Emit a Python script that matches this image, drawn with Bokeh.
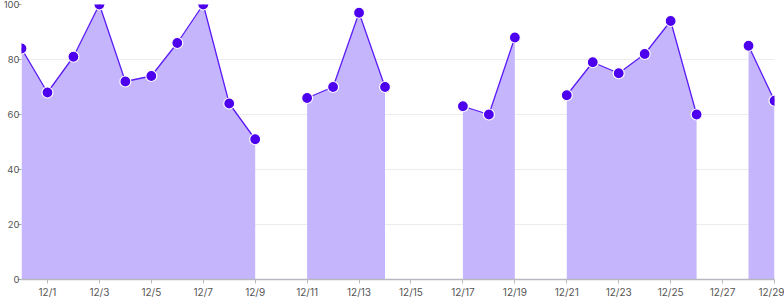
from bokeh.plotting import figure
from bokeh.models import FixedTicker, Range1d
from bokeh.embed import file_html
from bokeh.resources import INLINE

dates = ["11/30", "12/1", "12/2", "12/3", "12/4", "12/5", "12/6", "12/7", "12/8", "12/9",
         "12/10", "12/11", "12/12", "12/13", "12/14", "12/15", "12/16", "12/17", "12/18", "12/19",
         "12/20", "12/21", "12/22", "12/23", "12/24", "12/25", "12/26", "12/27", "12/28", "12/29"]
values = [84, 68, 81, 100, 72, 74, 86, 100, 64, 51,
          None, 66, 70, 97, 70, None, None, 63, 60, 88,
          None, 67, 79, 75, 82, 94, 60, None, 85, 65]
y_ticks = [0, 20, 40, 60, 80, 100]
x_tick_labels = dates[1::2]

FONT = "Inter"
LINE = "#5b1cf5"
DOT = "#4d00ee"
FILL = "#c5b5fd"

xs = list(range(len(dates)))
ys = [float("nan") if v is None else v for v in values]

p = figure(width=784, height=300, output_backend="svg", toolbar_location=None,
           x_range=Range1d(0, len(dates) - 1), y_range=Range1d(0, 100),
           min_border_left=0, min_border_right=10, min_border_top=4, min_border_bottom=0)
p.outline_line_color = None
p.background_fill_color = "white"

segs = []
cur = []
for x, v in zip(xs, values):
    if v is None:
        if cur:
            segs.append(cur)
        cur = []
    else:
        cur.append((x, v))
if cur:
    segs.append(cur)

for s in segs:
    sx = [a for a, _ in s]
    sy = [b for _, b in s]
    p.varea(x=sx, y1=[0] * len(sx), y2=sy, fill_color=FILL, fill_alpha=1.0)

p.line(xs, ys, line_color=LINE, line_width=1.3)

px = [x for x, v in zip(xs, values) if v is not None]
py = [v for v in values if v is not None]
p.scatter(px, py, size=11, fill_color=DOT, line_color="white", line_width=1.2)

tick_pos = [i for i, d in enumerate(dates) if d in x_tick_labels]
p.xaxis.ticker = FixedTicker(ticks=tick_pos)
p.xaxis.major_label_overrides = {i: dates[i] for i in tick_pos}
p.xaxis.minor_tick_line_color = None
p.xaxis.axis_line_color = "#b8b8c0"
p.xaxis.axis_line_width = 1.5
p.xaxis.major_tick_line_color = "#b8b8c0"
p.xaxis.major_tick_out = 4
p.xaxis.major_tick_in = 0
p.xaxis.major_label_standoff = 2
p.xaxis.major_label_text_font = FONT
p.xaxis.major_label_text_font_size = "10px"
p.xaxis.major_label_text_color = "#555555"

p.yaxis.ticker = FixedTicker(ticks=y_ticks)
p.yaxis.minor_tick_line_color = None
p.yaxis.axis_line_color = None
p.yaxis.major_tick_line_color = "#aaaaaa"
p.yaxis.major_tick_out = 4
p.yaxis.major_tick_in = 0
p.yaxis.major_label_standoff = -2
p.yaxis.major_label_text_font = FONT
p.yaxis.major_label_text_font_size = "9.5px"
p.yaxis.major_label_text_color = "#555555"

p.xgrid.grid_line_color = None
p.ygrid.grid_line_color = "#ececec"
p.ygrid.ticker = FixedTicker(ticks=y_ticks)

open("out.html", "w").write(file_html(p, INLINE))
